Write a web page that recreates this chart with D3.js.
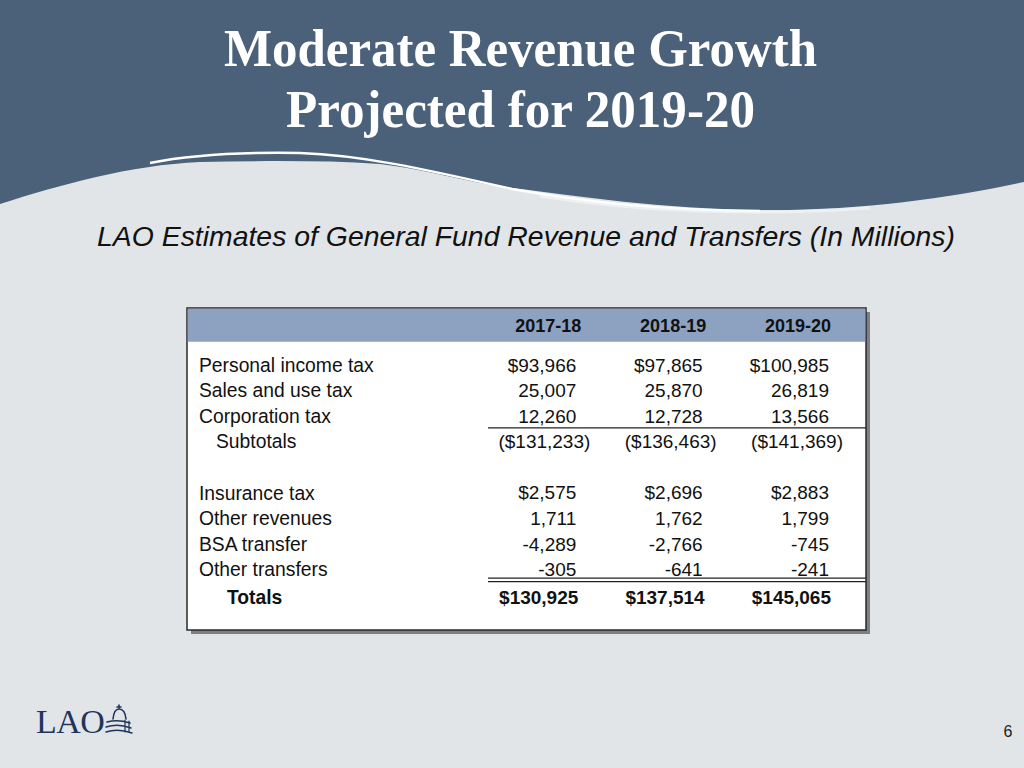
<!DOCTYPE html>
<html><head><meta charset="utf-8">
<script src="https://cdn.jsdelivr.net/npm/d3@7"></script>
<style>html,body{margin:0;padding:0;background:#e1e5e8;}svg{display:block;}</style>
</head><body>
<script>
// ---- data ----
const titleLines = ["Moderate Revenue Growth", "Projected for 2019-20"];
const subtitle = "LAO Estimates of General Fund Revenue and Transfers (In Millions)";
const years = ["2017-18", "2018-19", "2019-20"];
const taxLabels = ["Personal income tax", "Sales and use tax", "Corporation tax"];
const personalIncomeTax = [93966, 97865, 100985];
const salesAndUseTax = [25007, 25870, 26819];
const corporationTax = [12260, 12728, 13566];
const subtotalLabel = "Subtotals";
const subtotals = [131233, 136463, 141369];
const otherLabels = ["Insurance tax", "Other revenues", "BSA transfer", "Other transfers"];
const insuranceTax = [2575, 2696, 2883];
const otherRevenues = [1711, 1762, 1799];
const bsaTransfer = [-4289, -2766, -745];
const otherTransfers = [-305, -641, -241];
const totalLabel = "Totals";
const totals = [130925, 137514, 145065];
const pageNumber = "6";

// ---- layout ----
const W = 1024, H = 768;
const svg = d3.select("body").append("svg").attr("width", W).attr("height", H);
svg.append("rect").attr("width", W).attr("height", H).attr("fill", "#e1e5e8");

// header wave
svg.append("path")
  .attr("d", "M0,0 H1024 V182 C950,198 860,211 760,210 C660,209 580,196 512,188 C460,181 430,170 380,164 C320,160 260,161 200,162 C130,165 60,185 0,204 Z")
  .attr("fill", "#4b6079");
svg.append("path")
  .attr("d", "M150,163 C190,155 240,152 300,153 C360,155 420,168 512,189 C580,201 650,210 760,211")
  .attr("fill", "none").attr("stroke", "#ffffff").attr("stroke-width", 2.5);
svg.append("path")
  .attr("d", "M540,196 C640,212 760,216 870,208")
  .attr("fill", "none").attr("stroke", "#f6f8fa").attr("stroke-width", 3).attr("opacity", 0.6);

const titleWidths = [593, 469];
svg.selectAll("text.title").data(titleLines).join("text")
  .attr("class", "title")
  .attr("x", (d, i) => 520.5 - titleWidths[i] / 2).attr("y", (d, i) => 66 + i * 61)
  .attr("textLength", (d, i) => titleWidths[i]).attr("lengthAdjust", "spacingAndGlyphs")
  .attr("font-family", "'Liberation Serif','Times New Roman',serif")
  .attr("font-weight", "bold").attr("font-size", 53)
  .attr("fill", "#ffffff")
  .text(d => d);

svg.append("text").attr("x", 97).attr("y", 246)
  .attr("textLength", 858).attr("lengthAdjust", "spacingAndGlyphs")
  .attr("font-family", "'Liberation Sans',Arial,sans-serif")
  .attr("font-style", "italic").attr("font-size", 27.5).attr("fill", "#111")
  .text(subtitle);

// ---- table ----
const box = {x0: 187, y0: 308, x1: 866, y1: 630};
svg.append("rect").attr("x", box.x0 + 4).attr("y", box.y0 + 4)
  .attr("width", box.x1 - box.x0).attr("height", box.y1 - box.y0).attr("fill", "#7d7f82");
svg.append("rect").attr("x", box.x0).attr("y", box.y0)
  .attr("width", box.x1 - box.x0).attr("height", box.y1 - box.y0)
  .attr("fill", "#ffffff").attr("stroke", "#2a2a2a").attr("stroke-width", 1.5);
svg.append("rect").attr("x", box.x0 + 0.75).attr("y", box.y0 + 0.75)
  .attr("width", box.x1 - box.x0 - 1.5).attr("height", 33).attr("fill", "#8da1c0");

const x = d3.scaleBand().domain(years).range([450, 829]);
const right = c => x(c) + x.bandwidth();

const rows = [
  {label: taxLabels[0], vals: personalIncomeTax, dollar: true, indent: 0},
  {label: taxLabels[1], vals: salesAndUseTax, indent: 0},
  {label: taxLabels[2], vals: corporationTax, indent: 0},
  {label: subtotalLabel, vals: subtotals, paren: true, indent: 17},
  null,
  {label: otherLabels[0], vals: insuranceTax, dollar: true, indent: 0},
  {label: otherLabels[1], vals: otherRevenues, indent: 0},
  {label: otherLabels[2], vals: bsaTransfer, indent: 0},
  {label: otherLabels[3], vals: otherTransfers, indent: 0},
  {label: totalLabel, vals: totals, dollar: true, bold: true, indent: 28}
];
const y = d3.scalePoint().domain(d3.range(rows.length)).range([365, 595]);

const fmtN = d3.format(",");
function fmt(v, r) {
  let s = (v < 0 ? "-" : "") + (r.dollar || r.paren ? "$" : "") + fmtN(Math.abs(v));
  if (r.paren) s = "(" + s + ")";
  return s;
}

const font = "'Liberation Sans',Arial,Helvetica,sans-serif";
// header
svg.selectAll("text.hdr").data(years).join("text")
  .attr("class", "hdr")
  .attr("x", d => right(d) + 5 - years.indexOf(d) * 1.5).attr("y", 326).attr("dy", "0.35em")
  .attr("text-anchor", "end").attr("font-family", font)
  .attr("font-weight", "bold").attr("font-size", 18).attr("fill", "#111")
  .text(d => d);

const rowData = rows.map((r, i) => r && Object.assign({i}, r)).filter(Boolean);
const g = svg.selectAll("g.row").data(rowData).join("g").attr("class", "row")
  .attr("transform", d => `translate(0,${y(d.i) + (d.bold ? 2 : 0)})`);
g.append("text")
  .attr("x", d => 199 + d.indent).attr("dy", "0.35em")
  .attr("font-family", font).attr("font-size", 19.3)
  .attr("font-weight", d => d.bold ? "bold" : "normal").attr("fill", "#111")
  .text(d => d.label);
g.selectAll("text.v").data(d => years.map((yr, k) => ({yr, v: d.vals[k], r: d}))).join("text")
  .attr("class", "v")
  .attr("x", d => right(d.yr) + (d.r.paren ? 14 : d.r.bold ? 2 : 0))
  .attr("dy", "0.35em").attr("text-anchor", "end")
  .attr("font-family", font).attr("font-size", 19)
  .attr("font-weight", d => d.r.bold ? "bold" : "normal").attr("fill", "#111")
  .text(d => fmt(d.v, d.r));

// rules
const ruleX0 = 488;
const ySub = (y(2) + y(3)) / 2 - 1;
svg.append("line").attr("x1", ruleX0).attr("x2", box.x1).attr("y1", ySub).attr("y2", ySub)
  .attr("stroke", "#222").attr("stroke-width", 1.3);
const yTot = (y(8) + y(9)) / 2 - 4;
[yTot, yTot + 3.5].forEach(yy => svg.append("line").attr("x1", ruleX0).attr("x2", box.x1)
  .attr("y1", yy).attr("y2", yy).attr("stroke", "#222").attr("stroke-width", 1.2));

// ---- footer ----
svg.append("text").attr("x", 36).attr("y", 733)
  .attr("font-family", "'Liberation Serif','Times New Roman',serif")
  .attr("font-size", 34).attr("fill", "#1f3559").attr("letter-spacing", -0.5).text("LAO");
const logo = svg.append("g").attr("fill", "none").attr("stroke", "#1f3559").attr("stroke-linecap", "round");
logo.append("path").attr("d", "M117,707 h4 M119,705 v3").attr("stroke-width", 1.6);
logo.append("path").attr("d", "M113,719 Q114,709 119,709 Q125,709 126,719").attr("stroke-width", 1.6);
logo.append("path").attr("d", "M107,722 Q118,719 130,723").attr("stroke-width", 1.6);
logo.append("path").attr("d", "M106,727 Q118,723 131,728").attr("stroke-width", 1.4);
logo.append("path").attr("d", "M106,732 Q118,728 132,733").attr("stroke-width", 1.4);
logo.append("path").attr("d", "M125,720 v12 M129,721 v11").attr("stroke-width", 1.2);

svg.append("text").attr("x", 1008).attr("y", 737).attr("text-anchor", "middle")
  .attr("font-family", font).attr("font-size", 16).attr("fill", "#222").text(pageNumber);
</script>
</body></html>
